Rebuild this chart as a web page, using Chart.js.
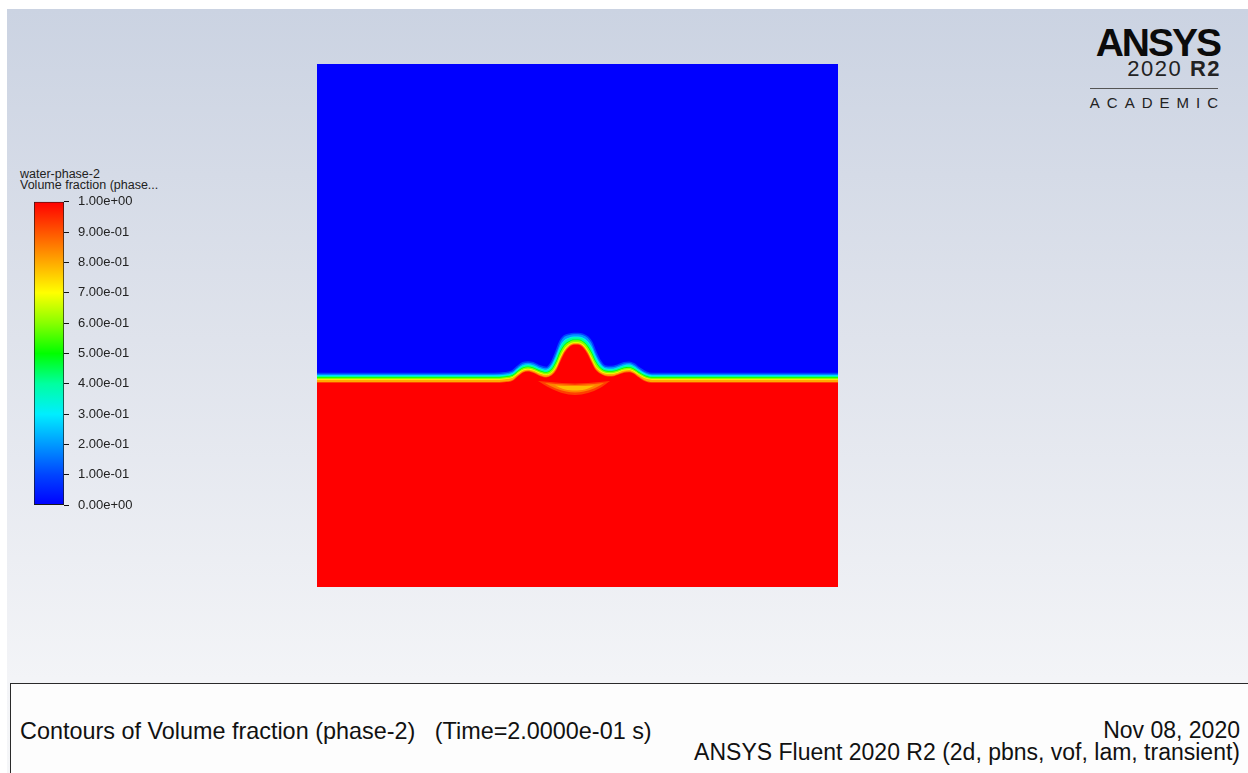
<!DOCTYPE html>
<html>
<head>
<meta charset="utf-8">
<script src="https://cdn.jsdelivr.net/npm/chart.js@4.4.1/dist/chart.umd.min.js"></script>
<style>
  html, body { margin: 0; padding: 0; width: 1248px; height: 773px; overflow: hidden; background: #ffffff; font-family: "Liberation Sans", Arial, sans-serif; }
  #bg { position: absolute; left: 7px; top: 9px; width: 1241px; height: 764px;
        background: linear-gradient(to bottom, #cbd3e2 0px, #dfe3ec 330px, #f3f4f7 670px, #f5f6f8 764px); }
  .abs { position: absolute; line-height: 1; white-space: pre; }
  #field { position: absolute; left: 317px; top: 64px; width: 521px; height: 523px; background: #0000ff; }
  #cbar { position: absolute; left: 0px; top: 185px; width: 200px; height: 337px; }
  #panel { position: absolute; left: 10px; top: 683px; width: 1250px; height: 100px; background: #fdfdfd;
           border-left: 1px solid #2a2a2a; border-top: 1px solid #2a2a2a; }
</style>
</head>
<body>
<div id="bg"></div>

<div class="abs" style="left:20px; top:168px; font-size:12.5px; color:#222;">water-phase-2</div>
<div class="abs" style="left:20px; top:179px; font-size:12.5px; color:#222;">Volume fraction (phase...</div>

<div class="abs" style="right:28px; top:23px; font-size:39px; font-weight:bold; color:#0b0b0b; letter-spacing:-2px;">ANSYS</div>
<div class="abs" style="right:27px; top:58px; font-size:22px; color:#222; letter-spacing:1.5px;">2020 <b>R2</b></div>
<div style="position:absolute; left:1090px; top:88px; width:128px; height:1px; background:#555;"></div>
<div class="abs" style="right:23px; top:95px; font-size:15px; color:#222; letter-spacing:7px;">ACADEMIC</div>

<canvas id="field" width="521" height="523"></canvas>
<canvas id="cbar" width="200" height="337"></canvas>

<div id="panel"></div>
<div class="abs" style="left:20px; top:720px; font-size:23.4px; color:#111;">Contours of Volume fraction (phase-2)   (Time=2.0000e-01 s)</div>
<div class="abs" style="right:8px; top:719px; font-size:23px; color:#111;">Nov 08, 2020</div>
<div class="abs" style="right:8px; top:741px; font-size:23px; color:#111;">ANSYS Fluent 2020 R2 (2d, pbns, vof, lam, transient)</div>

<script>
// ---- Data (domain coordinates, x and y in [0,1]) ----
const xPos = [0, 0.25, 0.34, 0.36, 0.375, 0.385, 0.395, 0.405, 0.415, 0.428, 0.44, 0.45, 0.458, 0.466, 0.474, 0.484, 0.493, 0.501, 0.51, 0.52, 0.528, 0.535, 0.543, 0.553, 0.566, 0.578, 0.589, 0.599, 0.608, 0.618, 0.63, 0.643, 0.74, 1.0];

// contour of volume fraction = 0.1
const level10 = [0.4082, 0.4082, 0.4082, 0.4095, 0.4134, 0.4220, 0.4287, 0.4304, 0.4287, 0.4225, 0.4196, 0.4298, 0.4482, 0.4693, 0.4797, 0.4834, 0.4847, 0.4847, 0.4834, 0.4778, 0.4674, 0.4501, 0.4337, 0.4225, 0.4215, 0.4247, 0.4287, 0.4297, 0.4268, 0.4196, 0.4119, 0.4082, 0.4082, 0.4082];
// contour 0.3
const level30 = [0.4049, 0.4049, 0.4049, 0.4060, 0.4094, 0.4175, 0.4242, 0.4260, 0.4242, 0.4182, 0.4153, 0.4233, 0.4392, 0.4593, 0.4712, 0.4769, 0.4790, 0.4790, 0.4769, 0.4693, 0.4574, 0.4411, 0.4272, 0.4182, 0.4172, 0.4203, 0.4242, 0.4252, 0.4223, 0.4153, 0.4081, 0.4049, 0.4049, 0.4049];
// contour 0.5 (free surface)
const level50 = [0.4015, 0.4015, 0.4015, 0.4025, 0.4054, 0.4130, 0.4197, 0.4216, 0.4197, 0.4140, 0.4111, 0.4168, 0.4302, 0.4493, 0.4627, 0.4704, 0.4732, 0.4732, 0.4704, 0.4608, 0.4474, 0.4321, 0.4207, 0.4140, 0.4130, 0.4159, 0.4197, 0.4207, 0.4178, 0.4111, 0.4044, 0.4015, 0.4015, 0.4015];
// contour 0.7
const level70 = [0.3977, 0.3977, 0.3977, 0.3987, 0.4014, 0.4085, 0.4152, 0.4174, 0.4152, 0.4098, 0.4069, 0.4108, 0.4212, 0.4393, 0.4542, 0.4644, 0.4682, 0.4682, 0.4644, 0.4523, 0.4374, 0.4231, 0.4147, 0.4098, 0.4088, 0.4117, 0.4152, 0.4162, 0.4133, 0.4069, 0.4004, 0.3977, 0.3977, 0.3977];
// contour 0.9
const level90 = [0.3919, 0.3919, 0.3919, 0.3929, 0.3958, 0.4040, 0.4112, 0.4136, 0.4112, 0.4050, 0.4021, 0.4058, 0.4152, 0.4323, 0.4487, 0.4604, 0.4647, 0.4647, 0.4604, 0.4468, 0.4304, 0.4171, 0.4097, 0.4050, 0.4040, 0.4074, 0.4112, 0.4122, 0.4093, 0.4021, 0.3948, 0.3919, 0.3919, 0.3919];

// lower-fraction crescent under the central bump (outer glow, middle, core)
const glowX = [0.4242, 0.4472, 0.4702, 0.4952, 0.5202, 0.5432, 0.5624];
const glowTop = [0.3939, 0.3920, 0.3901, 0.3891, 0.3901, 0.3920, 0.3939];
const glowBottom = [0.3939, 0.3805, 0.3709, 0.3671, 0.3709, 0.3805, 0.3939];
const arcX = [0.4376, 0.4587, 0.4779, 0.4952, 0.5125, 0.5317, 0.5509];
const arcTop = [0.3901, 0.3881, 0.3872, 0.3862, 0.3872, 0.3881, 0.3901];
const arcBottom = [0.3901, 0.3795, 0.3738, 0.3719, 0.3738, 0.3795, 0.3901];
const coreX = [0.4568, 0.4760, 0.4952, 0.5144, 0.5336];
const coreTop = [0.3853, 0.3843, 0.3843, 0.3843, 0.3853];
const coreBottom = [0.3853, 0.3776, 0.3757, 0.3776, 0.3853];

// colour map and colour bar
const colorStops = [0, 0.1, 0.2, 0.3, 0.4, 0.5, 0.6, 0.7, 0.8, 0.9, 1.0];
const colorMap = ['#0000ff', '#0044ff', '#0099ff', '#00eeff', '#00ffa0', '#00ff00', '#88ff00', '#ffff00', '#ffaa00', '#ff5500', '#ff0000'];
const colorbarLabels = ['0.00e+00', '1.00e-01', '2.00e-01', '3.00e-01', '4.00e-01', '5.00e-01', '6.00e-01', '7.00e-01', '8.00e-01', '9.00e-01', '1.00e+00'];

// ---- build ----
const pts = (xs, ys) => xs.map((x, i) => ({ x: x, y: ys[i] }));
const lineBase = { pointRadius: 0, borderWidth: 1.5, cubicInterpolationMode: 'monotone', order: 1 };
const blob = (xs, ys, fillTarget, bg, ord) => ({ data: pts(xs, ys), pointRadius: 0, borderWidth: 0, borderColor: 'rgba(0,0,0,0)',
  backgroundColor: bg, fill: fillTarget, cubicInterpolationMode: 'monotone', order: ord });

new Chart(document.getElementById('field'), {
  type: 'line',
  data: {
    datasets: [
      Object.assign({}, lineBase, { data: pts(xPos, level10), borderColor: colorMap[1], backgroundColor: colorMap[2], fill: 1 }),
      Object.assign({}, lineBase, { data: pts(xPos, level30), borderColor: colorMap[3], backgroundColor: colorMap[4], fill: 2 }),
      Object.assign({}, lineBase, { data: pts(xPos, level50), borderColor: colorMap[5], backgroundColor: colorMap[6], fill: 3 }),
      Object.assign({}, lineBase, { data: pts(xPos, level70), borderColor: colorMap[7], backgroundColor: colorMap[8], fill: 4 }),
      Object.assign({}, lineBase, { data: pts(xPos, level90), borderColor: colorMap[9], backgroundColor: colorMap[10], fill: 'start' }),
      blob(glowX, glowTop, 6, 'rgba(255,140,0,0.45)', -1),
      blob(glowX, glowBottom, false, 'rgba(0,0,0,0)', -1),
      blob(arcX, arcTop, 8, 'rgba(255,175,0,0.6)', -2),
      blob(arcX, arcBottom, false, 'rgba(0,0,0,0)', -2),
      blob(coreX, coreTop, 10, 'rgba(255,215,0,0.7)', -3),
      blob(coreX, coreBottom, false, 'rgba(0,0,0,0)', -3)
    ]
  },
  options: {
    responsive: false, animation: false, devicePixelRatio: 1,
    layout: { padding: 0 },
    plugins: { legend: { display: false }, tooltip: { enabled: false } },
    scales: {
      x: { type: 'linear', min: 0, max: 1, display: false },
      y: { type: 'linear', min: 0, max: 1, display: false }
    }
  }
});

new Chart(document.getElementById('cbar'), {
  type: 'bar',
  data: {
    labels: ['vf'],
    datasets: [{
      data: [[0, 1]],
      borderColor: '#1a1a1a', borderWidth: 1, borderSkipped: false,
      barPercentage: 1, categoryPercentage: 1,
      backgroundColor: (ctx) => {
        const ca = ctx.chart.chartArea;
        if (!ca) return colorMap[5];
        const g = ctx.chart.ctx.createLinearGradient(0, ca.bottom, 0, ca.top);
        colorStops.forEach((s, i) => g.addColorStop(s, colorMap[i]));
        return g;
      }
    }]
  },
  options: {
    responsive: false, animation: false, devicePixelRatio: 1,
    layout: { padding: { left: 34, right: 0, top: 12, bottom: 16 } },
    plugins: { legend: { display: false }, tooltip: { enabled: false } },
    scales: {
      x: { display: false },
      y: {
        position: 'right', min: 0, max: 1,
        afterFit: (s) => { s.width = 136; },
        border: { display: false },
        grid: { drawOnChartArea: false, drawTicks: true, tickLength: 5, color: '#111', lineWidth: 1 },
        ticks: { stepSize: 0.1, padding: 9, color: '#222', font: { family: 'Liberation Sans', size: 13 },
                 callback: (v, i) => colorbarLabels[i] }
      }
    }
  }
});
</script>
</body>
</html>
